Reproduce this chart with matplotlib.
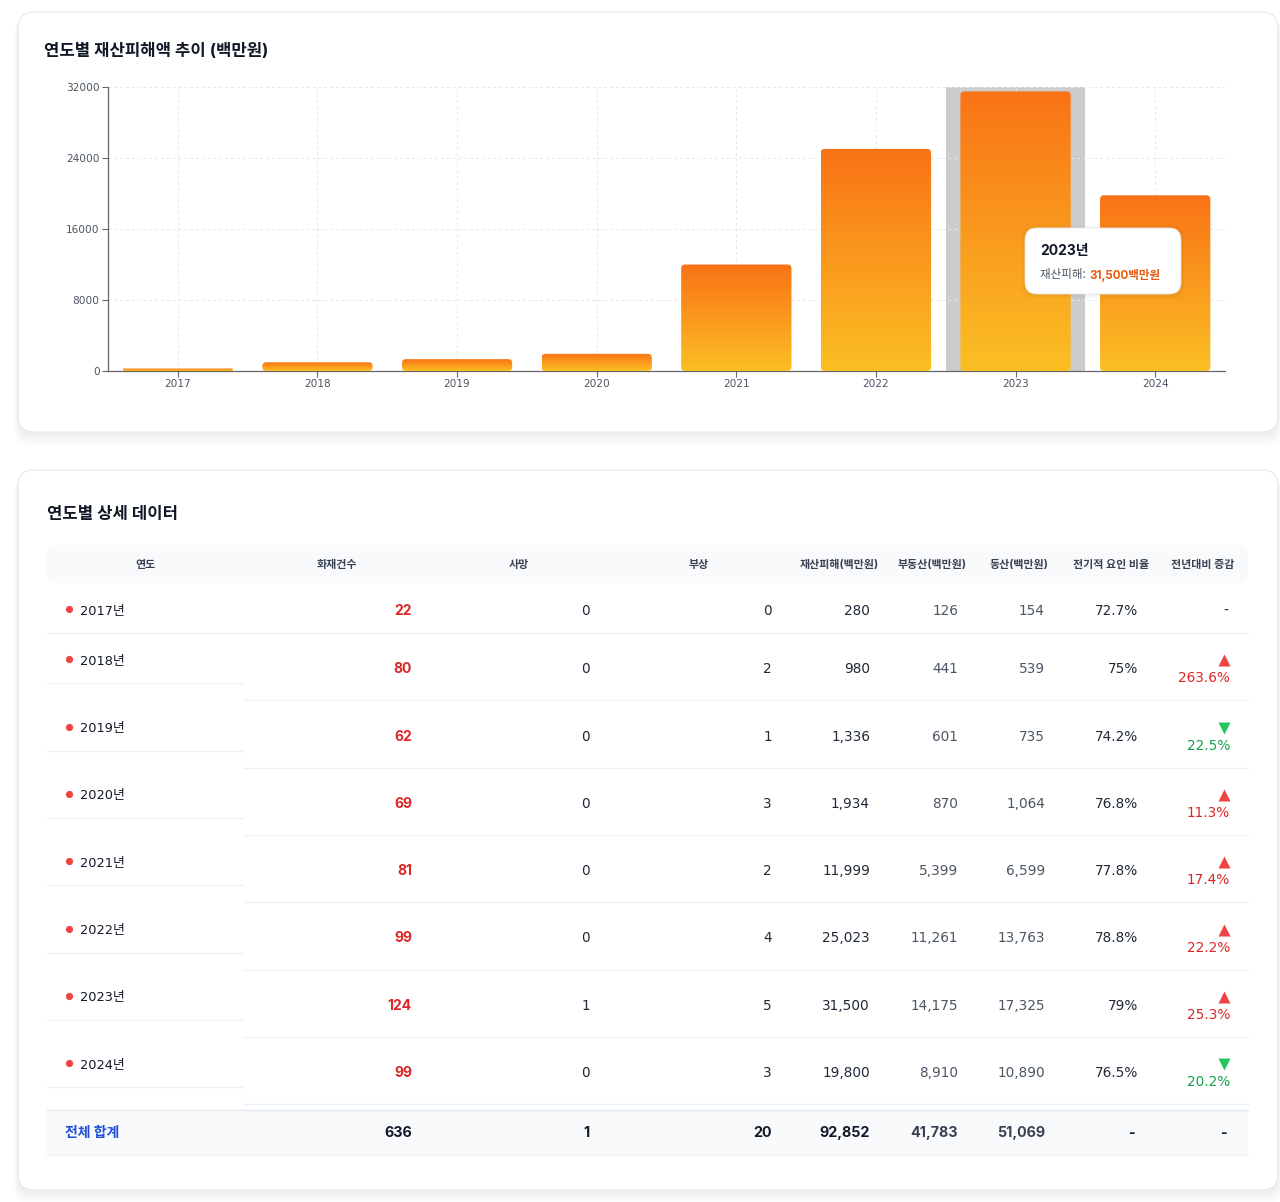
import matplotlib
matplotlib.use("Agg")
import matplotlib.pyplot as plt
import numpy as np
from matplotlib.colors import LinearSegmentedColormap
from matplotlib.patches import FancyBboxPatch, Rectangle

plt.rcParams["font.family"] = ["Inter", "Noto Sans CJK KR", "DejaVu Sans"]
NUM_FONT = ["DejaVu Sans", "Noto Sans CJK KR"]

# ── data ────────────────────────────────────────────────────────────────
years = [2017, 2018, 2019, 2020, 2021, 2022, 2023, 2024]
fires = [22, 80, 62, 69, 81, 99, 124, 99]
deaths = [0, 0, 0, 0, 0, 0, 1, 0]
injuries = [0, 2, 1, 3, 2, 4, 5, 3]
damage = [280, 980, 1336, 1934, 11999, 25023, 31500, 19800]
real_estate = [126, 441, 601, 870, 5399, 11261, 14175, 8910]
movables = [154, 539, 735, 1064, 6599, 13763, 17325, 10890]
elec_ratio = [72.7, 75, 74.2, 76.8, 77.8, 78.8, 79, 76.5]
yoy_change = [None, 263.6, -22.5, 11.3, 17.4, 22.2, 25.3, -20.2]
y_ticks = [0, 8000, 16000, 24000, 32000]
headers = ["연도", "화재건수", "사망", "부상", "재산피해(백만원)", "부동산(백만원)",
           "동산(백만원)", "전기적 요인 비율", "전년대비 증감"]
highlight_year = 2023

W, H = 1280, 1202
fig = plt.figure(figsize=(W / 100, H / 100), dpi=100)
fig.patch.set_facecolor("white")

# background / table layer in pixel coordinates
bg = fig.add_axes([0, 0, 1, 1], zorder=0)
bg.set_xlim(0, W)
bg.set_ylim(H, 0)
bg.axis("off")


def card(x0, y0, x1, y1):
    # soft shadow, mostly below the card
    for i in range(8):
        bg.add_patch(FancyBboxPatch((x0 - i * 0.5, y0 + 3 + i * 0.5), x1 - x0 + i, y1 - y0 + i,
                                    boxstyle="round,pad=0,rounding_size=16",
                                    fc="#000000", ec="none", alpha=0.006, zorder=1))
    bg.add_patch(FancyBboxPatch((x0, y0), x1 - x0, y1 - y0,
                                boxstyle="round,pad=0,rounding_size=16",
                                fc="white", ec="#e5e7eb", lw=0.8, zorder=2))


card(18, 12, 1278, 432)
card(18, 470, 1278, 1190)

bg.text(44, 51, "연도별 재산피해액 추이 (백만원)", fontsize=12, fontweight="bold",
        color="#111827", va="center", ha="left", zorder=5)
bg.text(47, 515, "연도별 상세 데이터", fontsize=12, fontweight="bold",
        color="#111827", va="center", ha="left", zorder=5)

# ── bar chart ───────────────────────────────────────────────────────────
ax_l, ax_r, ax_t, ax_b = 108, 1225, 87, 371
ax = fig.add_axes([ax_l / W, (H - ax_b) / H, (ax_r - ax_l) / W, (ax_b - ax_t) / H], zorder=2)
ax.patch.set_alpha(0)

xpos = np.arange(len(years))
hi = years.index(highlight_year)
ax.axvspan(hi - 0.5, hi + 0.5, color="#cccccc", zorder=1, lw=0)

bars = ax.bar(xpos, damage, width=0.79, color="none", zorder=2)
cmap = LinearSegmentedColormap.from_list("bar", ["#fbbf24", "#f97316"])
grad = np.linspace(0, 1, 256).reshape(-1, 1)
px_x = 1 / 139.6
px_y = 32000 / (ax_b - ax_t)
aspect = px_y / px_x
for rect in bars:
    x0, w, h = rect.get_x(), rect.get_width(), rect.get_height()
    r = min(4 * px_x, h / 2 / aspect)
    clip = FancyBboxPatch((x0, 0), w, h, boxstyle=f"round,pad=0,rounding_size={r}",
                          mutation_aspect=aspect, transform=ax.transData,
                          fc="none", ec="none")
    ax.add_patch(clip)
    im = ax.imshow(grad, extent=[x0, x0 + w, 0, h], origin="lower", aspect="auto",
                   cmap=cmap, zorder=3)
    im.set_clip_path(clip)

ax.set_xlim(-0.5, len(years) - 0.5)
ax.set_ylim(0, y_ticks[-1])
ax.set_yticks(y_ticks)
ax.set_xticks(xpos)
ax.set_xticklabels([str(y) for y in years])
ax.grid(True, linestyle=(0, (3, 3)), color="#e5e7eb", lw=0.7, zorder=0)
ax.axvline(len(years) - 0.5, linestyle=(0, (3, 3)), color="#e5e7eb", lw=0.7, zorder=0)
for s in ["top", "right"]:
    ax.spines[s].set_visible(False)
for s in ["left", "bottom"]:
    ax.spines[s].set_color("#666666")
    ax.spines[s].set_linewidth(0.9)
ax.tick_params(colors="#666666", labelcolor="#4b5563", labelsize=7.6, length=4, width=0.8, pad=2)
for t in ax.get_xticklabels() + ax.get_yticklabels():
    t.set_family(NUM_FONT)

# tooltip
tip = fig.add_axes([0, 0, 1, 1], zorder=4)
tip.set_xlim(0, W)
tip.set_ylim(H, 0)
tip.axis("off")
tip.patch.set_alpha(0)
for i in range(5):
    tip.add_patch(FancyBboxPatch((1025 - i, 228 - i + 1), 156 + 2 * i, 66 + 2 * i,
                                 boxstyle="round,pad=0,rounding_size=12",
                                 fc="#000000", ec="none", alpha=0.012))
tip.add_patch(FancyBboxPatch((1025, 228), 156, 66, boxstyle="round,pad=0,rounding_size=12",
                             fc="white", ec="#e5e7eb", lw=0.6))
tip.text(1040, 251, f"{highlight_year}년", fontsize=10, fontweight="bold", color="#111827", va="center")
lbl = tip.text(1040, 275, "재산피해: ", fontsize=8.3, color="#4b5563", va="center")
tip.annotate(f"{damage[hi]:,}백만원", xy=(1, 0.5), xycoords=lbl, va="center", ha="left",
             fontsize=8.3, fontweight="bold", color="#ea580c")

# ── table ───────────────────────────────────────────────────────────────
tbl_l, tbl_r = 47, 1248
year_col_r = 243
bg.add_patch(FancyBboxPatch((tbl_l, 545), tbl_r - tbl_l, 38, boxstyle="round,pad=0,rounding_size=8",
                            fc="#f8fafc", ec="none", zorder=3))
head_x = [145, 337, 519, 699, 839, 932, 1019, 1111, 1203]
for hx, name in zip(head_x, headers):
    bg.text(hx, 565, name, fontsize=7.9, color="#374151", ha="center", va="center",
            fontweight="bold", zorder=5)

val_right = [412, 590, 772, 870, 958, 1045, 1138, 1230]
sep_col = "#eef2f6"
first_sep = 633
pitch = 67.3
for i, yr in enumerate(years):
    if i == 0:
        yc = first_sep - 23
        year_y = yc
        bg.plot([tbl_l, tbl_r], [first_sep, first_sep], color=sep_col, lw=1, zorder=4)
    else:
        row_bot = first_sep + pitch * i
        yc = row_bot - 32
        year_y = row_bot - 40
        bg.plot([tbl_l, year_col_r], [row_bot - 17, row_bot - 17], color=sep_col, lw=1, zorder=4)
        bg.plot([year_col_r, tbl_r], [row_bot, row_bot], color=sep_col, lw=1, zorder=4)
    bg.plot([69], [year_y - 1], marker="o", ms=5.2, color="#ef4444", mec="none", zorder=5)
    bg.text(80, year_y + 1, f"{yr}년", fontsize=9.3, color="#111827", va="center", ha="left",
            family=NUM_FONT, zorder=5)

    bg.text(val_right[0], yc + 1, f"{fires[i]}", fontsize=10, color="#dc2626", fontweight="bold",
            ha="right", va="center", zorder=5)
    cells = [
        (f"{deaths[i]}", "#1f2937"),
        (f"{injuries[i]}", "#1f2937"),
        (f"{damage[i]:,}", "#1f2937"),
        (f"{real_estate[i]:,}", "#4b5563"),
        (f"{movables[i]:,}", "#4b5563"),
        (f"{elec_ratio[i]:g}%", "#1f2937"),
    ]
    for (txt, col), xr in zip(cells, val_right[1:]):
        bg.text(xr, yc + 1, txt, fontsize=9.8, color=col, ha="right", va="center",
                family=NUM_FONT, zorder=5)

    chg = yoy_change[i]
    if chg is None:
        bg.text(1228, yc + 1, "-", fontsize=9.8, color="#1f2937", ha="right", va="center",
                family=NUM_FONT, zorder=5)
    else:
        up = chg > 0
        tri_col = "#ef4444" if up else "#22c55e"
        txt_col = "#dc2626" if up else "#16a34a"
        bg.plot([1224], [yc - 8], marker="^" if up else "v", ms=8.5, color=tri_col, mec="none", zorder=5)
        bg.text(1230, yc + 10, f"{abs(chg)}%", fontsize=9.8, color=txt_col, ha="right",
                va="center", family=NUM_FONT, zorder=5)

# totals row
bg.add_patch(Rectangle((tbl_l, 1110), tbl_r - tbl_l, 45, fc="#f8fafc", ec="none", zorder=3))
bg.plot([tbl_l, tbl_r], [1110, 1110], color="#e2e8f0", lw=1, zorder=4)
bg.plot([tbl_l, tbl_r], [1155, 1155], color=sep_col, lw=1, zorder=4)
ty = 1133
bg.text(65, ty, "전체 합계", fontsize=10, fontweight="bold", color="#1d4ed8", ha="left", va="center", zorder=5)
totals = [sum(fires), sum(deaths), sum(injuries), sum(damage), sum(real_estate), sum(movables)]
total_cols = ["#111827", "#111827", "#111827", "#111827", "#374151", "#374151"]
for v, xr, col in zip(totals, val_right, total_cols):
    bg.text(xr, ty, f"{v:,}", fontsize=10.3, fontweight="bold", color=col, ha="right", va="center", zorder=5)
bg.text(1136, ty, "-", fontsize=10, fontweight="bold", color="#111827", ha="right", va="center", zorder=5)
bg.text(1228, ty, "-", fontsize=10, fontweight="bold", color="#111827", ha="right", va="center", zorder=5)

fig.savefig("out.png", dpi=100, facecolor="white")
